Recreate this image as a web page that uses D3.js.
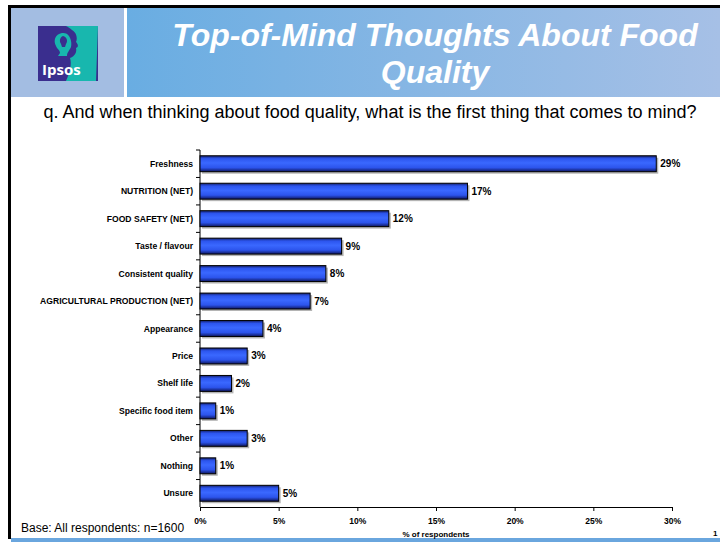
<!DOCTYPE html>
<html>
<head>
<meta charset="utf-8">
<script src="https://cdn.jsdelivr.net/npm/d3@7"></script>
<style>
  html, body { margin: 0; padding: 0; background: #fff; }
  svg { display: block; font-family: "Liberation Sans", Arial, sans-serif; }
</style>
</head>
<body>
<svg id="chart" width="720" height="544"></svg>
<script>
// Survey answers: first thing that comes to mind about food quality
const categories = [
  "Freshness", "NUTRITION (NET)", "FOOD SAFETY (NET)", "Taste / flavour",
  "Consistent quality", "AGRICULTURAL PRODUCTION (NET)", "Appearance", "Price",
  "Shelf life", "Specific food item", "Other", "Nothing", "Unsure"
];
const values = [29, 17, 12, 9, 8, 7, 4, 3, 2, 1, 3, 1, 5];
const xTicks = [0, 5, 10, 15, 20, 25, 30];

const svg = d3.select("#chart");
const defs = svg.append("defs");

// Header band gradient
const hg = defs.append("linearGradient").attr("id", "hdr").attr("x1", 0).attr("x2", 1).attr("y1", 0).attr("y2", 0);
hg.append("stop").attr("offset", "0%").attr("stop-color", "#69ade2");
hg.append("stop").attr("offset", "100%").attr("stop-color", "#a6c0e6");

// Bar gradient (vertical, cylinder-like shading)
const bg = defs.append("linearGradient").attr("id", "bar").attr("x1", 0).attr("x2", 0).attr("y1", 0).attr("y2", 1);
[["0%", "#14206e"], ["18%", "#2c55ee"], ["45%", "#3a68ff"], ["75%", "#2c54ec"], ["100%", "#0e1660"]]
  .forEach(([o, c]) => bg.append("stop").attr("offset", o).attr("stop-color", c));

// Page frame
svg.append("rect").attr("x", 8).attr("y", 5).attr("width", 712).attr("height", 3).attr("fill", "#000");
svg.append("rect").attr("x", 8).attr("y", 5).attr("width", 3).attr("height", 534).attr("fill", "#000");
svg.append("rect").attr("x", 11).attr("y", 538).attr("width", 709).attr("height", 4).attr("fill", "#6aa6de");

// Header
svg.append("rect").attr("x", 11).attr("y", 8).attr("width", 113).attr("height", 89).attr("fill", "#a3bde2");
svg.append("rect").attr("x", 127).attr("y", 8).attr("width", 593).attr("height", 89).attr("fill", "url(#hdr)");

// Logo
const logo = svg.append("g");
logo.append("rect").attr("x", 38).attr("y", 26).attr("width", 60).attr("height", 55).attr("fill", "#3a2e8e");
logo.append("path")
  .attr("d", "M66,26 L98,26 L96,81 L66,81 C70,72 72,64 70,58 C75,56 77,52 76,48 C79,47 78,44 76,42 C78,38 76,32 72,30 C70,28 68,27 66,26 Z")
  .attr("fill", "#18b7ae");
logo.append("path")
  .attr("d", "M62,33 C55,34 53,41 56,46 C57,49 60,50 60,53 L58,56 L67,56 C67,52 70,50 71,47 C72,43 71,37 67,34 C66,33 64,33 62,33 Z")
  .attr("fill", "#18b7ae");
logo.append("path")
  .attr("d", "M63,36 C60,37 59,41 61,44 L62,47 L65,47 L66,44 C68,41 67,37 63,36 Z")
  .attr("fill", "#3a2e8e");
logo.append("text").attr("x", 42).attr("y", 75).attr("fill", "#fff")
  .attr("font-size", 15).attr("font-weight", "bold").attr("font-family", "\"Open Sans\", \"Liberation Sans\", sans-serif")
  .text("Ipsos");

// Title
const title = svg.append("text").attr("text-anchor", "middle").attr("fill", "#fff")
  .attr("font-size", 32).attr("font-weight", "bold").attr("font-style", "italic");
title.append("tspan").attr("x", 435).attr("y", 46).text("Top-of-Mind Thoughts About Food");
title.append("tspan").attr("x", 435).attr("y", 83).text("Quality");

// Question
svg.append("text").attr("x", 370).attr("y", 118).attr("text-anchor", "middle")
  .attr("font-size", 18).attr("fill", "#000")
  .text("q. And when thinking about food quality, what is the first thing that comes to mind?");

// Scales
const x = d3.scaleLinear().domain([0, 30]).range([200, 672]);
const y = d3.scaleBand().domain(categories).range([150, 507]).paddingInner(0.42).paddingOuter(0.21);

// Y axis line and ticks at band boundaries
svg.append("line").attr("x1", 200).attr("x2", 200).attr("y1", 150).attr("y2", 507).attr("stroke", "#000");
const step = y.step();
svg.append("g").selectAll("line").data(d3.range(categories.length)).join("line")
  .attr("x1", 196).attr("x2", 200)
  .attr("y1", i => 150 + i * step).attr("y2", i => 150 + i * step)
  .attr("stroke", "#000");

// Category labels
svg.append("g").selectAll("text").data(categories).join("text")
  .attr("x", 193).attr("y", d => y(d) + y.bandwidth() / 2)
  .attr("dy", "0.35em").attr("text-anchor", "end")
  .attr("font-size", 8.6).attr("font-weight", "bold").attr("fill", "#000")
  .text(d => d);

// Bars with drop shadow
const rows = categories.map((c, i) => ({ c, v: values[i] }));
svg.append("g").selectAll("rect").data(rows).join("rect")
  .attr("x", x(0) + 2).attr("y", d => y(d.c) + 2)
  .attr("width", d => x(d.v) - x(0)).attr("height", y.bandwidth())
  .attr("fill", "#b4b4b4");
svg.append("g").selectAll("rect").data(rows).join("rect")
  .attr("x", x(0)).attr("y", d => y(d.c))
  .attr("width", d => x(d.v) - x(0)).attr("height", y.bandwidth())
  .attr("fill", "url(#bar)").attr("stroke", "#000").attr("stroke-width", 1);

// Value labels
svg.append("g").selectAll("text").data(rows).join("text")
  .attr("x", d => x(d.v) + 4).attr("y", d => y(d.c) + y.bandwidth() / 2)
  .attr("dy", "0.35em").attr("font-size", 10).attr("font-weight", "bold").attr("fill", "#000")
  .text(d => d.v + "%");

// X axis
const xAxis = svg.append("g").attr("transform", "translate(0,507)")
  .call(d3.axisBottom(x).tickValues(xTicks).tickSize(4).tickSizeOuter(0).tickFormat(d => d + "%"));
xAxis.select(".domain").attr("stroke", "#000");
xAxis.selectAll(".tick line").attr("stroke", "#000");
xAxis.selectAll(".tick text").attr("font-size", 8.5).attr("font-weight", "bold")
  .attr("font-family", "\"Liberation Sans\", Arial, sans-serif").attr("fill", "#000").attr("dy", "0.9em").attr("y", 9);

svg.append("text").attr("x", 436).attr("y", 537).attr("text-anchor", "middle")
  .attr("font-size", 8).attr("font-weight", "bold").text("% of respondents");

// Footer
svg.append("text").attr("x", 21).attr("y", 532).attr("font-size", 12).text("Base: All respondents: n=1600");
svg.append("text").attr("x", 713).attr("y", 536).attr("font-size", 8).attr("font-weight", "bold").text("1");
</script>
</body>
</html>
